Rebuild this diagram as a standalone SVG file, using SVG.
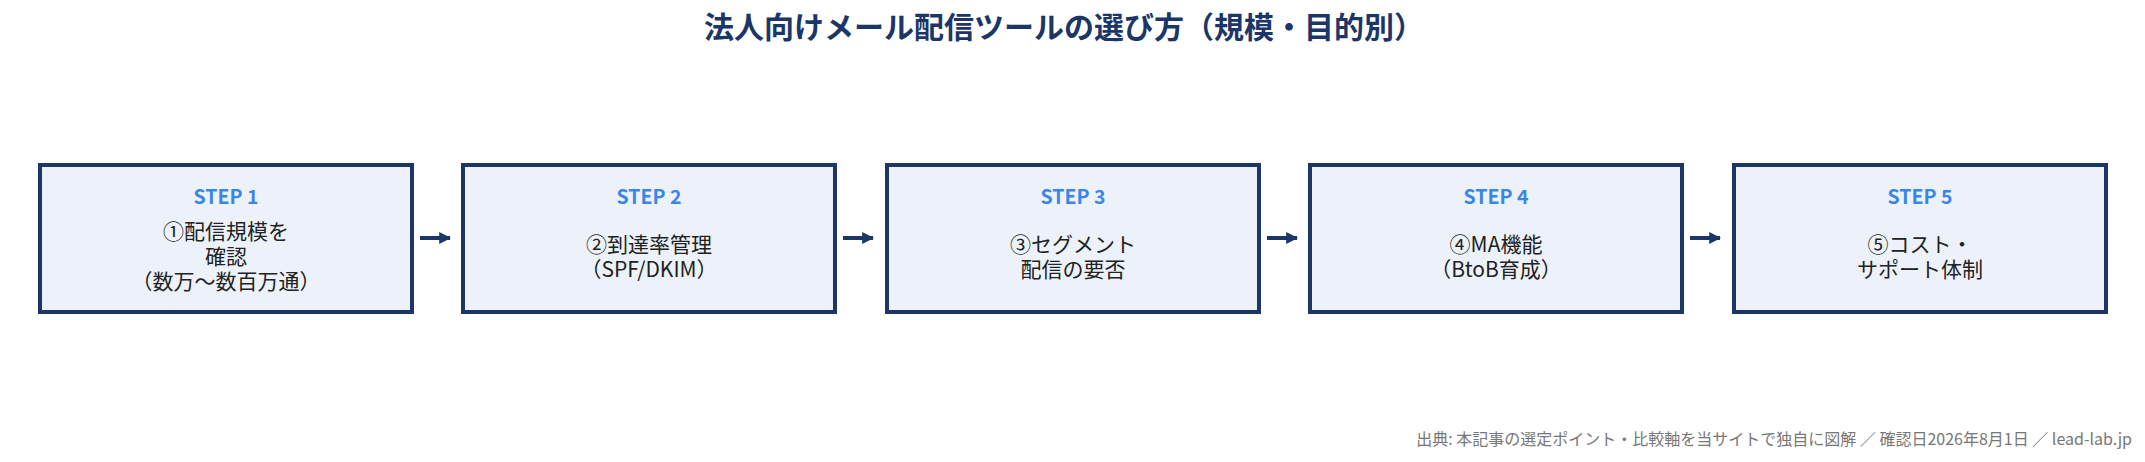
<svg xmlns="http://www.w3.org/2000/svg" width="2145" height="462" viewBox="0 0 2145 462">
<style>
text{font-family:"Noto Sans CJK JP","Noto Sans",sans-serif;text-anchor:middle}
.box{fill:#edf2fa;stroke:#1c3668;stroke-width:4}
.step{fill:#3a86e8;font-weight:bold;font-size:19.5px}
.lbl{fill:#222;font-size:21px}
</style>
<defs><marker id="ah2" viewBox="0 0 10 10" refX="9" refY="5" markerWidth="12" markerHeight="12" markerUnits="userSpaceOnUse" orient="auto"><path d="M0,0L10,5L0,10z" fill="#1c3668"/></marker></defs>
<rect width="2145" height="462" fill="#fff"/>
<text x="1064" y="38" font-size="30" font-weight="bold" fill="#1c3668">法人向けメール配信ツールの選び方（規模・目的別）</text>
<g id="connectors">
<line x1="420" y1="238" x2="450" y2="238" stroke="#1c3668" stroke-width="4" marker-end="url(#ah2)"/>
<line x1="843" y1="238" x2="873" y2="238" stroke="#1c3668" stroke-width="4" marker-end="url(#ah2)"/>
<line x1="1267" y1="238" x2="1297" y2="238" stroke="#1c3668" stroke-width="4" marker-end="url(#ah2)"/>
<line x1="1690" y1="238" x2="1720" y2="238" stroke="#1c3668" stroke-width="4" marker-end="url(#ah2)"/>
</g>
<g id="step1"><rect class="box" x="40" y="165" width="372" height="147"/>
<text class="step" x="226" y="204">STEP 1</text>
<text class="lbl" x="226" y="239">①配信規模を</text><text class="lbl" x="226" y="264">確認</text><text class="lbl" x="226" y="289">（数万〜数百万通）</text></g>
<g id="step2"><rect class="box" x="463" y="165" width="372" height="147"/>
<text class="step" x="649" y="204">STEP 2</text>
<text class="lbl" x="649" y="252">②到達率管理</text><text class="lbl" x="649" y="277">（SPF/DKIM）</text></g>
<g id="step3"><rect class="box" x="887" y="165" width="372" height="147"/>
<text class="step" x="1073" y="204">STEP 3</text>
<text class="lbl" x="1073" y="252">③セグメント</text><text class="lbl" x="1073" y="277">配信の要否</text></g>
<g id="step4"><rect class="box" x="1310" y="165" width="372" height="147"/>
<text class="step" x="1496" y="204">STEP 4</text>
<text class="lbl" x="1496" y="252">④MA機能</text><text class="lbl" x="1496" y="277">（BtoB育成）</text></g>
<g id="step5"><rect class="box" x="1734" y="165" width="372" height="147"/>
<text class="step" x="1920" y="204">STEP 5</text>
<text class="lbl" x="1920" y="252">⑤コスト・</text><text class="lbl" x="1920" y="277">サポート体制</text></g>
<text x="2132" y="445" font-size="16" fill="#777" style="text-anchor:end">出典: 本記事の選定ポイント・比較軸を当サイトで独自に図解 ／ 確認日2026年8月1日 ／ lead-lab.jp</text>
</svg>
